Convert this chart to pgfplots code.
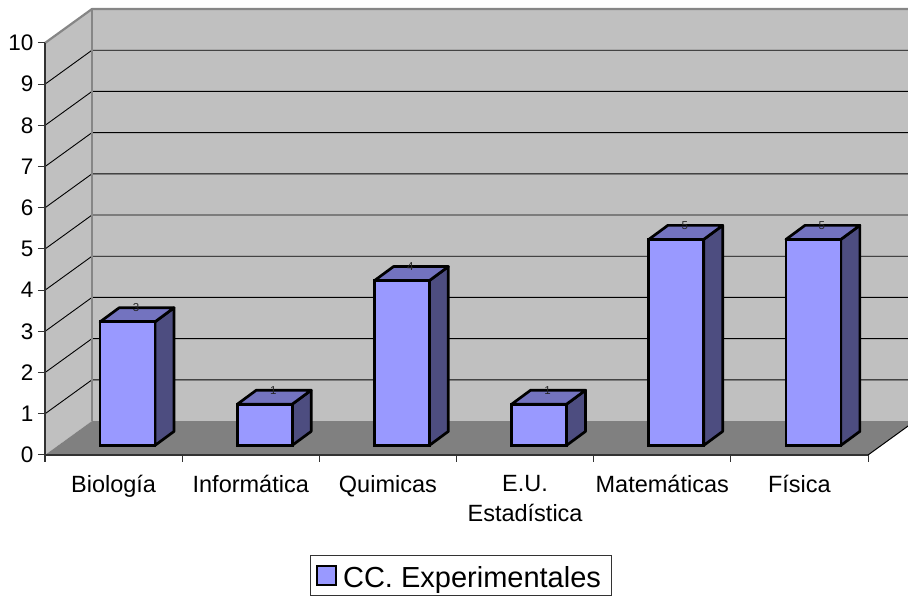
\documentclass[border=0pt]{standalone}
\usepackage{fontspec}
\setmainfont{Liberation Sans}
\usepackage{pgfplots}
\pgfplotsset{compat=1.18}
\definecolor{wall}{RGB}{192,192,192}
\definecolor{floorc}{RGB}{128,128,128}
\definecolor{edgec}{RGB}{134,134,134}
\definecolor{barf}{RGB}{153,153,255}
\definecolor{bart}{RGB}{115,115,191}
\definecolor{bars}{RGB}{77,77,128}
\definecolor{axc}{RGB}{50,50,50}
\newcommand{\barside}[1]{\addplot[forget plot,fill=bars,draw=black,line width=2.7pt,line join=round,xshift=14pt,yshift=9.6pt] coordinates {#1} -- cycle;}
\newcommand{\bartop}[1]{\addplot[forget plot,fill=bart,draw=black,line width=2.7pt,line join=round,xshift=14pt,yshift=9.6pt] coordinates {#1} -- cycle;}
\begin{document}
\begin{tikzpicture}[x=1pt,y=1pt]
\path[use as bounding box,clip] (0,0) rectangle (908,597);
\begin{axis}[
  at={(45pt,142pt)},anchor=south west,
  scale only axis,width=823pt,height=412pt,
  xmin=0,xmax=6,ymin=0,ymax=10,
  clip=false,axis on top,
  axis x line*=bottom,axis y line*=left,
  axis line style={draw=axc,line width=1.3pt,-},
  xtick={0.5,1.5,2.5,3.5,4.5,5.5},
  xticklabels={Biología,Informática,Quimicas,{E.U.\\Estadística},Matemáticas,Física},
  x tick label style={align=center,font=\fontsize{23.5}{30}\selectfont,anchor=north,yshift=-9.5pt},
  major x tick style={draw=none},
  minor xtick={0,1,2,3,4,5,6},
  minor tick length=7pt,
  minor x tick style={draw=axc,line width=1pt},
  tick align=outside,
  ytick={0,1,...,10},
  major tick length=7pt,
  y tick label style={font=\fontsize{22.5}{26}\selectfont,xshift=-1pt},
  major y tick style={draw=axc,line width=1pt},
  /pgf/number format/assume math mode=true,
  legend style={at={(0.5049,-0.2425)},anchor=north,draw=black!80,line width=0.8pt,
    font=\fontsize{29}{33}\selectfont,inner xsep=8pt,inner ysep=4pt,
    /tikz/every even column/.style={column sep=0pt}},
  legend image code/.code={\draw[overlay,fill=barf,draw=black,line width=2.2pt] (-1pt,-19.5pt) rectangle (18pt,-0.5pt);\path[draw=none,fill=none] (0pt,0pt) -- (23pt,0pt);},
]
% walls and floor
\addplot[forget plot,fill=wall,draw=none] coordinates {(0,0) (0.3426,0.825) (0.3426,10.825) (0,10)} -- cycle;
\addplot[forget plot,fill=wall,draw=none] coordinates {(0.3426,0.825) (6.3426,0.825) (6.3426,10.825) (0.3426,10.825)} -- cycle;
\addplot[forget plot,fill=floorc,draw=none] coordinates {(0,0) (0.3426,0.825) (6.3426,0.825) (6,0)} -- cycle;
% grid lines
\addplot[forget plot,black,line width=0.9pt] coordinates {(0,1) (0.3426,1.825) (6.3426,1.825)};
\addplot[forget plot,black,line width=0.9pt] coordinates {(0,2) (0.3426,2.825) (6.3426,2.825)};
\addplot[forget plot,black,line width=0.9pt] coordinates {(0,3) (0.3426,3.825) (6.3426,3.825)};
\addplot[forget plot,black,line width=0.9pt] coordinates {(0,4) (0.3426,4.825) (6.3426,4.825)};
\addplot[forget plot,black,line width=0.9pt] coordinates {(0,5) (0.3426,5.825) (6.3426,5.825)};
\addplot[forget plot,black,line width=0.9pt] coordinates {(0,6) (0.3426,6.825) (6.3426,6.825)};
\addplot[forget plot,black,line width=0.9pt] coordinates {(0,7) (0.3426,7.825) (6.3426,7.825)};
\addplot[forget plot,black,line width=0.9pt] coordinates {(0,8) (0.3426,8.825) (6.3426,8.825)};
\addplot[forget plot,black,line width=0.9pt] coordinates {(0,9) (0.3426,9.825) (6.3426,9.825)};
% wall edges
\addplot[forget plot,edgec,line width=2.2pt] coordinates {(0,10) (0.3426,10.825) (6.3426,10.825)};
\addplot[forget plot,edgec,line width=2.2pt] coordinates {(0.3426,0.825) (0.3426,10.825)};
\addplot[forget plot,black,line width=1pt] coordinates {(6,0) (6.3426,0.825)};
% bar sides
\barside{(0.7,0) (0.8385,0.34) (0.8385,3.34) (0.7,3)}
\barside{(1.7,0) (1.8385,0.34) (1.8385,1.34) (1.7,1)}
\barside{(2.7,0) (2.8385,0.34) (2.8385,4.34) (2.7,4)}
\barside{(3.7,0) (3.8385,0.34) (3.8385,1.34) (3.7,1)}
\barside{(4.7,0) (4.8385,0.34) (4.8385,5.34) (4.7,5)}
\barside{(5.7,0) (5.8385,0.34) (5.8385,5.34) (5.7,5)}
% bar tops
\bartop{(0.3,3) (0.4385,3.34) (0.8385,3.34) (0.7,3)}
\bartop{(1.3,1) (1.4385,1.34) (1.8385,1.34) (1.7,1)}
\bartop{(2.3,4) (2.4385,4.34) (2.8385,4.34) (2.7,4)}
\bartop{(3.3,1) (3.4385,1.34) (3.8385,1.34) (3.7,1)}
\bartop{(4.3,5) (4.4385,5.34) (4.8385,5.34) (4.7,5)}
\bartop{(5.3,5) (5.4385,5.34) (5.8385,5.34) (5.7,5)}
% bar fronts
\addplot[ybar,bar width=55pt,bar shift=0pt,fill=barf,draw=black,line width=2.7pt,xshift=14pt,yshift=9.6pt,
  nodes near coords,
  every node near coord/.append style={anchor=center,xshift=8.5pt,yshift=14pt,font=\fontsize{11.5}{12}\selectfont,text=black!85}]
  coordinates {(0.5,3) (1.5,1) (2.5,4) (3.5,1) (4.5,5) (5.5,5)};
\addlegendentry{\rule{0pt}{26.4pt}CC. Experimentales\hspace{8pt}}
\end{axis}
\end{tikzpicture}
\end{document}
